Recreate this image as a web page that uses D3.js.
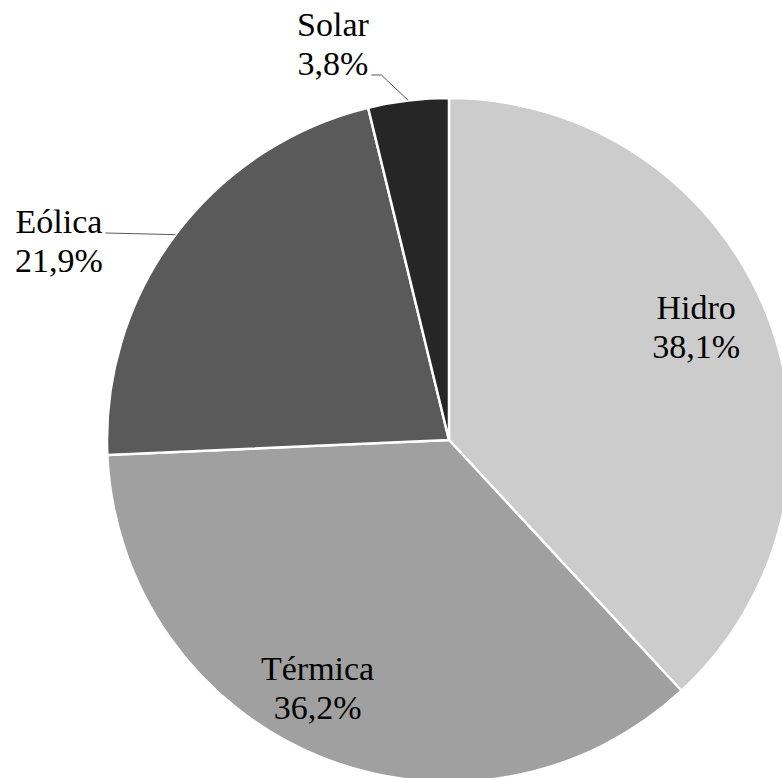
<!DOCTYPE html>
<html>
<head>
<meta charset="utf-8">
<script src="https://cdn.jsdelivr.net/npm/d3@7"></script>
<style>
  html, body { margin: 0; padding: 0; background: #fff; }
  svg { display: block; }
</style>
</head>
<body>
<svg id="chart" width="782" height="778"></svg>
<script>
// Generation mix by source (%)
const sources = ["Hidro", "Térmica", "Eólica", "Solar"];
const shares = [38.1, 36.2, 21.9, 3.8];
const colors = ["#cccccc", "#a0a0a0", "#5a5a5a", "#262626"];

const cx = 449, cy = 440, R = 342;
const labelFont = '"Liberation Serif"';
const fontSize = 34, lineGap = 39;

// Label placement: inside labels use a radius factor plus a small nudge,
// outside labels sit beyond the rim with a leader line back to the slice.
const labelStyle = {
  "Hidro":   { mode: "inside", rf: 0.80, dAngle: -4 },
  "Térmica": { mode: "inside", rf: 0.81, dAngle: 6 },
  "Eólica":  { mode: "outside", lx: 59, ly: 272, leaderLine: 0, elbow: 0 },
  "Solar":   { mode: "outside", lx: 333, ly: 75, leaderLine: 1, elbow: 10 }
};

const rows = sources.map((s, i) => ({ name: s, value: shares[i], color: colors[i] }));
const fmt = v => d3.format(".1f")(v).replace(".", ",") + "%";

const svg = d3.select("#chart").style("font-family", labelFont);
const g = svg.append("g").attr("transform", `translate(${cx},${cy})`);

const pie = d3.pie().value(d => d.value).sort(null);
const arc = d3.arc().innerRadius(0).outerRadius(R);
const arcs = pie(rows);

g.selectAll("path.slice")
  .data(arcs)
  .join("path")
  .attr("class", "slice")
  .attr("d", arc)
  .attr("fill", d => d.data.color)
  .attr("stroke", "#ffffff")
  .attr("stroke-width", 2.5)
  .attr("stroke-linejoin", "round");

const polar = (r, a) => [r * Math.sin(a), -r * Math.cos(a)];

arcs.forEach(a => {
  const st = labelStyle[a.data.name];
  const mid = (a.startAngle + a.endAngle) / 2;
  let x, y;
  if (st.mode === "inside") {
    const p = polar(R * st.rf, mid + st.dAngle * Math.PI / 180);
    x = p[0]; y = p[1] - 4 + lineGap;
  } else {
    x = st.lx - cx; y = st.ly - cy;
  }
  const t = g.append("text")
    .attr("text-anchor", "middle")
    .attr("font-family", "Liberation Serif")
    .attr("font-size", fontSize)
    .style("font-family", labelFont)
    .style("font-size", fontSize + "px")
    .attr("fill", "#000");
  const nameRow = t.append("tspan").attr("x", x).attr("y", y - lineGap).text(a.data.name);
  const pctRow = t.append("tspan").attr("x", x).attr("y", y).text(fmt(a.data.value));

  if (st.mode === "outside") {
    // leader line from the end of one label line to the slice rim
    const rowNode = st.leaderLine === 0 ? nameRow.node() : pctRow.node();
    const textLen = rowNode.getComputedTextLength();
    const startX = x + textLen / 2 + 3;
    const startY = y - (st.leaderLine === 0 ? lineGap : 0);
    const pts = [[startX, startY]];
    if (st.elbow) pts.push([startX + st.elbow, startY]);
    pts.push(polar(R, mid));
    g.append("path")
      .attr("d", d3.line()(pts))
      .attr("fill", "none")
      .attr("stroke", "#595959")
      .attr("stroke-width", 1);
  }
});
</script>
</body>
</html>
